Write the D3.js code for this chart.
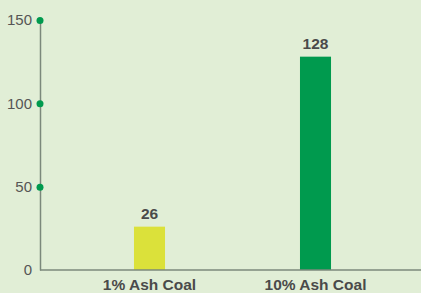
<!DOCTYPE html>
<html>
<head>
<meta charset="utf-8">
<script src="https://cdn.jsdelivr.net/npm/d3@7"></script>
<style>
  body { margin: 0; background: #e1eed6; }
  svg { display: block; }
</style>
</head>
<body>
<div id="chart"></div>
<script>
const width = 421,
  height = 293;

// data
const categories = ['1% Ash Coal', '10% Ash Coal'];
const values = [26, 128];
const barColors = ['#dbe13a', '#009a4e'];
const yTicks = [0, 50, 100, 150];

const svg = d3
  .select('#chart')
  .append('svg')
  .attr('width', width)
  .attr('height', height);

svg.append('rect').attr('width', width).attr('height', height).attr('fill', '#e1eed6');

const y = d3.scaleLinear().domain([0, 150]).range([270, 20]);

const x = d3
  .scaleBand()
  .domain(categories)
  .range([66.5, 398.5])
  .paddingInner(0.813)
  .paddingOuter(0.4065);

// bars
svg
  .append('g')
  .selectAll('rect')
  .data(values)
  .enter()
  .append('rect')
  .attr('x', (d, i) => x(categories[i]))
  .attr('y', (d) => y(d))
  .attr('width', x.bandwidth())
  .attr('height', (d) => y(0) - y(d))
  .attr('fill', (d, i) => barColors[i]);

// value labels
svg
  .append('g')
  .selectAll('text')
  .data(values)
  .enter()
  .append('text')
  .attr('x', (d, i) => x(categories[i]) + x.bandwidth() / 2)
  .attr('y', (d) => y(d) - 7.5)
  .attr('text-anchor', 'middle')
  .attr('font-family', 'Liberation Sans, Arial, sans-serif')
  .attr('font-size', 15.5)
  .attr('font-weight', 'bold')
  .attr('fill', '#4a4a4a')
  .text((d) => d);

// y axis
const yAxis = (g) =>
  g
    .attr('transform', 'translate(40,0)')
    .call(d3.axisLeft(y).tickValues(yTicks).tickSize(0).tickPadding(8))
    .call((g) => g.select('.domain').attr('stroke', '#7b887b').attr('stroke-width', 1.5))
    .call((g) =>
      g
        .selectAll('.tick text')
        .attr('font-family', 'Liberation Sans, Arial, sans-serif')
        .attr('font-size', 15)
        .attr('fill', '#555')
    )
    .call((g) =>
      g
        .selectAll('.tick')
        .filter((d) => d > 0)
        .append('circle')
        .attr('r', 3.5)
        .attr('fill', '#009a4e')
    );

// x axis
const xAxis = (g) =>
  g
    .attr('transform', `translate(0,${y(0)})`)
    .call(d3.axisBottom(x).tickSize(0).tickPadding(8.5))
    .call((g) => g.select('.domain').remove())
    .call((g) =>
      g
        .append('line')
        .attr('x1', 40)
        .attr('x2', width)
        .attr('stroke', '#7b887b')
        .attr('stroke-width', 1.5)
    )
    .call((g) =>
      g
        .selectAll('.tick text')
        .attr('font-family', 'Liberation Sans, Arial, sans-serif')
        .attr('font-size', 15.5)
        .attr('font-weight', 'bold')
        .attr('fill', '#4a4a4a')
    );

svg.append('g').call(xAxis);
svg.append('g').call(yAxis);
</script>
</body>
</html>
